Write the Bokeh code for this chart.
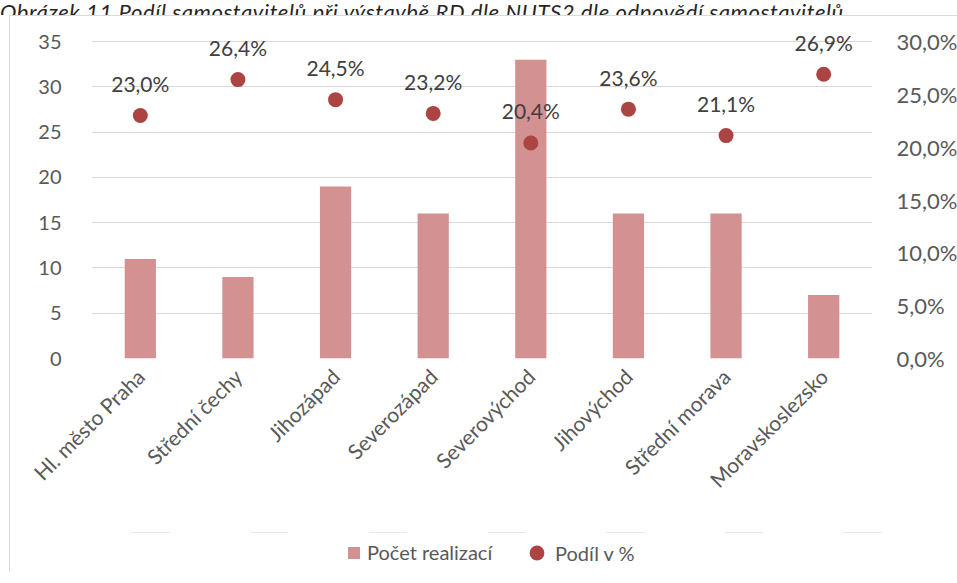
from math import pi

from bokeh.core.properties import value
from bokeh.embed import file_html
from bokeh.layouts import column
from bokeh.models import (ColumnDataSource, CustomJSTickFormatter, Div,
                          FactorRange, FixedTicker, Legend, LegendItem,
                          LinearAxis, Range1d)
from bokeh.plotting import figure
from bokeh.resources import INLINE

# Regions (NUTS2) and survey results
regions = ["Hl. město Praha", "Střední čechy", "Jihozápad", "Severozápad",
           "Severovýchod", "Jihovýchod", "Střední morava", "Moravskoslezsko"]
counts = [11, 9, 19, 16, 33, 16, 16, 7]
shares = [0.230, 0.264, 0.245, 0.232, 0.204, 0.236, 0.211, 0.269]
share_labels = ["23,0%", "26,4%", "24,5%", "23,2%", "20,4%", "23,6%", "21,1%", "26,9%"]
count_ticks = [0, 5, 10, 15, 20, 25, 30, 35]
share_ticks = [0.0, 0.05, 0.10, 0.15, 0.20, 0.25, 0.30]

caption = "Obrázek 11 Podíl samostavitelů při výstavbě RD dle NUTS2 dle odpovědí samostavitelů"

FONT = "Lato"
TXT = "#595959"
GRID = "#d9d9d9"
BAR = "#d39191"
DOT = "#ab4442"
BORDER = {"border-left": "1px solid #d9d9d9"}

# frame: 333 px tall, 35 units of count take 316 px of it
FRAME_H, SCALE_H = 333, 316
count_top = 35 * FRAME_H / SCALE_H
share_top = 0.30 * FRAME_H / SCALE_H

src = ColumnDataSource(dict(region=regions, count=counts, share=shares,
                            label=share_labels))

p = figure(frame_width=780, frame_height=FRAME_H, x_range=FactorRange(*regions),
           y_range=Range1d(0, count_top), output_backend="svg",
           toolbar_location=None,
           min_border_left=81, min_border_right=87, min_border_top=8,
           min_border_bottom=175, margin=(0, 0, 0, 9),
           styles={**BORDER, "border-top": "1px solid #d9d9d9"})
p.extra_y_ranges = {"pct": Range1d(0, share_top)}
p.outline_line_color = None
p.background_fill_color = "white"
p.border_fill_color = "white"


def draw_series(fig):
    """Bars for the counts and dots for the shares on a figure."""
    b = fig.vbar(x="region", top="count", width=0.32, source=src,
                 fill_color=BAR, line_color=None)
    d = fig.scatter(x="region", y="share", y_range_name="pct", source=src,
                    size=15, fill_color=DOT, line_color=None)
    return b, d


bars, dots = draw_series(p)
p.text(x="region", y="share", text="label", y_range_name="pct", source=src,
       text_align="center", text_baseline="middle", y_offset=-32,
       text_font=value(FONT), text_font_size="21px", text_color="#404040")

# left axis: counts
ax = p.yaxis[0]
ax.ticker = FixedTicker(ticks=count_ticks)
ax.axis_line_color = None
ax.major_tick_line_color = None
ax.minor_tick_line_color = None
ax.major_label_standoff = 24
ax.major_label_text_font = FONT
ax.major_label_text_font_size = "20px"
ax.major_label_text_color = TXT

# right axis: shares in percent with decimal comma
ra = LinearAxis(y_range_name="pct", ticker=FixedTicker(ticks=share_ticks),
                formatter=CustomJSTickFormatter(
                    code="return (tick*100).toFixed(1).replace('.', ',') + '%';"))
ra.axis_line_color = None
ra.major_tick_line_color = None
ra.minor_tick_line_color = None
ra.major_label_standoff = 18
ra.major_label_text_font = FONT
ra.major_label_text_font_size = "22px"
ra.major_label_text_color = TXT
p.add_layout(ra, "right")

xa = p.xaxis[0]
xa.axis_line_color = None
xa.major_tick_line_color = None
xa.minor_tick_line_color = None
xa.major_label_orientation = pi / 4
xa.major_label_standoff = 8
xa.major_label_text_font = FONT
xa.major_label_text_font_size = "21px"
xa.major_label_text_color = TXT

p.xgrid.grid_line_color = None
p.ygrid.grid_line_color = GRID
p.ygrid.grid_line_width = 1.2
p.ygrid.ticker = FixedTicker(ticks=count_ticks)

# legend strip under the chart; its series lie far outside the visible y range
leg_fig = figure(frame_width=948, frame_height=40, x_range=FactorRange(*regions),
                 y_range=Range1d(-1000, -990), output_backend="svg",
                 toolbar_location=None, x_axis_type=None, y_axis_type=None,
                 min_border=0, margin=(0, 0, 0, 9), styles=BORDER)
leg_fig.extra_y_ranges = {"pct": Range1d(-1000, -990)}
leg_fig.outline_line_color = None
leg_fig.background_fill_color = "white"
leg_fig.border_fill_color = "white"
leg_fig.xgrid.grid_line_color = None
leg_fig.ygrid.grid_line_color = None
leg_bars, leg_dots = draw_series(leg_fig)

legend_style = dict(orientation="horizontal", padding=0, margin=0,
                    label_text_font=FONT, label_text_font_size="20px",
                    label_text_color=TXT, border_line_color=None,
                    background_fill_alpha=0)
bar_legend = Legend(items=[LegendItem(label="Počet realizací", renderers=[leg_bars])],
                    location=(336, 8), glyph_width=15, glyph_height=15,
                    label_standoff=6, **legend_style)
dot_legend = Legend(items=[LegendItem(label="Podíl v %", renderers=[leg_dots])],
                    location=(508, 1), glyph_width=37, glyph_height=37,
                    label_standoff=0, **legend_style)
leg_fig.add_layout(bar_legend, "center")
leg_fig.add_layout(dot_legend, "center")

head = Div(text=f'<div style="margin-top:-13px;white-space:nowrap">{caption}</div>',
           width=957, height=15, margin=0,
           styles={"overflow": "hidden", "font-family": FONT,
                   "font-style": "italic", "font-size": "22px",
                   "letter-spacing": "0.6px",
                   "line-height": "24px", "color": "#262626"})

layout = column(head, p, leg_fig, spacing=0, margin=0)
open("out.html", "w").write(file_html(layout, INLINE))
